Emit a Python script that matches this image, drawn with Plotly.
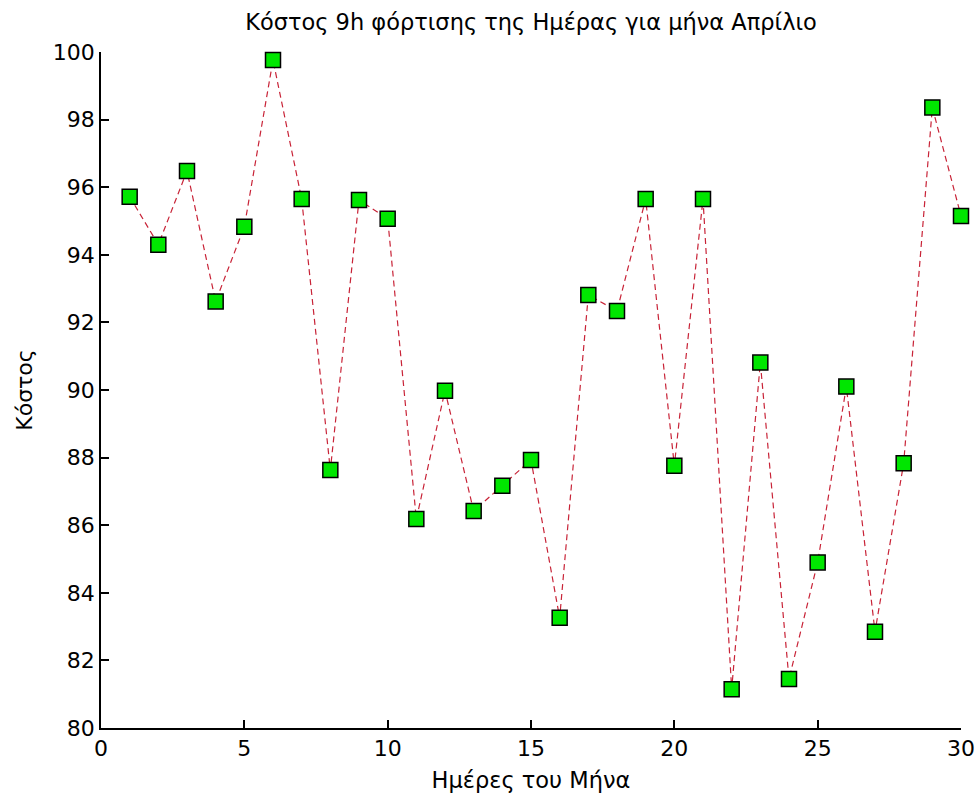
import plotly.graph_objects as go

# Ημέρες του μήνα και κόστος (τιμές από το γράφημα)
days = list(range(1, 31))
cost = [95.72, 94.30, 96.48, 92.62, 94.83, 99.76, 95.65, 87.63, 95.62, 95.07,
        86.18, 89.98, 86.42, 87.17, 87.93, 83.26, 92.81, 92.34, 95.65, 87.76,
        95.65, 81.15, 90.81, 81.45, 84.90, 90.10, 82.85, 87.83, 98.36, 95.15]

x_ticks = [0, 5, 10, 15, 20, 25, 30]
y_ticks = [80, 82, 84, 86, 88, 90, 92, 94, 96, 98, 100]

fig = go.Figure()

fig.add_trace(go.Scatter(
    x=days,
    y=cost,
    mode='lines+markers',
    line=dict(color='rgb(200,35,55)', width=1.2, dash='6px,4px'),
    marker=dict(symbol='square', size=15, color='rgb(0,230,0)',
                line=dict(color='black', width=1.5)),
    showlegend=False,
    cliponaxis=False
))

font = dict(family='DejaVu Sans, Verdana, sans-serif', size=22, color='black')

fig.update_layout(
    width=977, height=802,
    paper_bgcolor='white', plot_bgcolor='white',
    margin=dict(l=101, r=16, t=52, b=74, autoexpand=False),
    font=font,
    title=dict(text='Κόστος 9h φόρτισης της Ημέρας για μήνα Απρίλιο',
               xref='paper', x=0.5, xanchor='center',
               yref='container', y=0.973, yanchor='middle',
               font=dict(size=22.5)),
    xaxis=dict(range=[0, 30], tickvals=x_ticks, showgrid=False, zeroline=False,
               showline=True, linecolor='black', linewidth=1.5,
               ticks='inside', ticklen=8, tickcolor='black', tickwidth=1.5,
               tickfont=dict(size=22),
               title=dict(text='Ημέρες του Μήνα', font=dict(size=22.5), standoff=12)),
    yaxis=dict(range=[80, 100], tickvals=y_ticks, showgrid=False, zeroline=False,
               showline=True, linecolor='black', linewidth=1.5,
               ticks='inside', ticklen=8, tickcolor='black', tickwidth=1.5,
               tickfont=dict(size=22),
               title=dict(text='Κόστος', font=dict(size=22), standoff=14)),
)

# χωρίς το προεπιλεγμένο περιθώριο 8px του body και χωρίς modebar
fig.write_html("out.html", config={'displayModeBar': False},
               post_script="document.body.style.margin='0';")
